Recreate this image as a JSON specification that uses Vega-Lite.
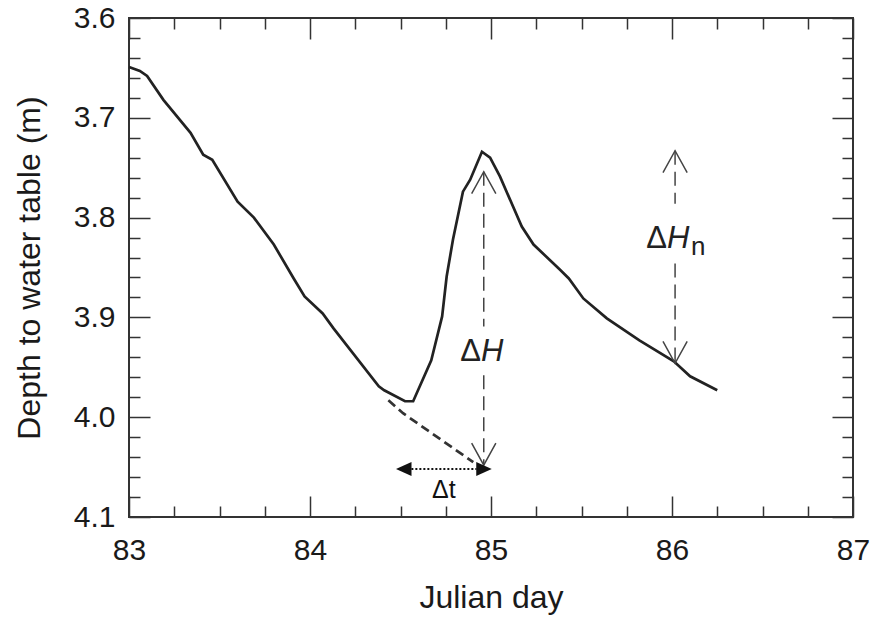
{
  "$schema": "https://vega.github.io/schema/vega-lite/v6.json",
  "width": 724,
  "height": 499,
  "autosize": {"type": "none"},
  "padding": {"left": 129, "top": 18, "right": 21, "bottom": 100},
  "config": {
    "font": "Liberation Sans",
    "view": {"stroke": "#333", "strokeWidth": 2},
    "axis": {"grid": false, "domain": false, "tickColor": "#333", "tickWidth": 1.5, "labelColor": "#1a1a1a", "titleColor": "#1a1a1a", "titleFontWeight": "normal"}
  },
  "datasets": {
    "main": [
      {"day": 83.00, "depth": 3.649}, {"day": 83.06, "depth": 3.653}, {"day": 83.10, "depth": 3.658},
      {"day": 83.19, "depth": 3.682}, {"day": 83.34, "depth": 3.715}, {"day": 83.41, "depth": 3.737},
      {"day": 83.46, "depth": 3.742}, {"day": 83.60, "depth": 3.784}, {"day": 83.69, "depth": 3.800},
      {"day": 83.80, "depth": 3.827}, {"day": 83.91, "depth": 3.861}, {"day": 83.97, "depth": 3.879},
      {"day": 84.07, "depth": 3.896}, {"day": 84.13, "depth": 3.911}, {"day": 84.38, "depth": 3.969},
      {"day": 84.41, "depth": 3.973}, {"day": 84.525, "depth": 3.984}, {"day": 84.57, "depth": 3.984},
      {"day": 84.67, "depth": 3.943}, {"day": 84.73, "depth": 3.899}, {"day": 84.755, "depth": 3.859},
      {"day": 84.79, "depth": 3.822}, {"day": 84.845, "depth": 3.774}, {"day": 84.885, "depth": 3.762},
      {"day": 84.95, "depth": 3.734}, {"day": 84.995, "depth": 3.740}, {"day": 85.05, "depth": 3.759},
      {"day": 85.17, "depth": 3.809}, {"day": 85.235, "depth": 3.827}, {"day": 85.38, "depth": 3.852},
      {"day": 85.43, "depth": 3.861}, {"day": 85.51, "depth": 3.881}, {"day": 85.64, "depth": 3.901},
      {"day": 85.82, "depth": 3.923}, {"day": 86.01, "depth": 3.944}, {"day": 86.10, "depth": 3.959},
      {"day": 86.25, "depth": 3.973}
    ],
    "extrap": [
      {"day": 84.433, "depth": 3.983}, {"day": 84.514, "depth": 3.996}, {"day": 84.902, "depth": 4.045}
    ],
    "segs": [
      {"day": 84.96, "depth": 3.754, "depth2": 3.909},
      {"day": 84.96, "depth": 3.958, "depth2": 4.048},
      {"day": 86.017, "depth": 3.733, "depth2": 3.786},
      {"day": 86.017, "depth": 3.846, "depth2": 3.946}
    ],
    "tipsUp": [{"day": 84.96, "depth": 3.754}, {"day": 86.017, "depth": 3.733}],
    "tipsDown": [{"day": 84.96, "depth": 4.048}, {"day": 86.017, "depth": 3.946}],
    "dt": [{"day": 84.56, "day2": 84.92, "depth": 4.052}],
    "triLeft": [{"day": 84.475, "depth": 4.052}],
    "triRight": [{"day": 85.004, "depth": 4.052}],
    "delta": [{"day": 84.945, "depth": 3.944, "t": "Δ"}, {"day": 85.972, "depth": 3.8306, "t": "Δ"}],
    "hItal": [{"day": 84.945, "depth": 3.944, "t": "H"}, {"day": 85.972, "depth": 3.8306, "t": "H"}],
    "sub": [{"day": 86.105, "depth": 3.8375, "t": "n"}],
    "dtLabel": [{"day": 84.74, "depth": 4.081, "t": "Δt"}]
  },
  "resolve": {"axis": {"x": "independent", "y": "independent"}},
  "layer": [
    {
      "data": {"name": "main"},
      "mark": {"type": "line", "color": "#222", "strokeWidth": 2.7},
      "encoding": {
        "x": {"field": "day", "type": "quantitative", "scale": {"domain": [83, 87], "nice": false, "zero": false},
              "axis": {"orient": "bottom", "values": [83, 84, 85, 86, 87], "format": "d", "ticks": false, "labelFontSize": 30, "labelPadding": 18, "labelFlush": false, "title": "Julian day", "titleFontSize": 32, "titlePadding": 17}},
        "y": {"field": "depth", "type": "quantitative", "scale": {"domain": [3.6, 4.1], "reverse": true, "nice": false, "zero": false},
              "axis": {"orient": "left", "values": [3.6, 3.7, 3.8, 3.9, 4.0, 4.1], "format": ".1f", "ticks": false, "labelFontSize": 30, "labelPadding": 14, "labelFlush": false, "title": "Depth to water table (m)", "titleFontSize": 32, "titlePadding": 27}}
      }
    },
    {
      "data": {"name": "extrap"},
      "mark": {"type": "line", "color": "#333", "strokeWidth": 2.7, "strokeDash": [9, 5]},
      "encoding": {
        "x": {"field": "day", "type": "quantitative", "axis": {"orient": "bottom", "values": [83, 84, 85, 86, 87], "tickSize": -21, "labels": false, "title": null}},
        "y": {"field": "depth", "type": "quantitative", "axis": {"orient": "left", "values": [3.6, 3.7, 3.8, 3.9, 4.0, 4.1], "tickSize": -21, "labels": false, "title": null}}
      }
    },
    {
      "data": {"name": "segs"},
      "mark": {"type": "rule", "color": "#444", "strokeWidth": 1.5, "strokeDash": [14, 7]},
      "encoding": {
        "x": {"field": "day", "type": "quantitative", "axis": {"orient": "bottom", "values": [83.25, 83.5, 83.75, 84.25, 84.5, 84.75, 85.25, 85.5, 85.75, 86.25, 86.5, 86.75], "tickSize": -11, "labels": false, "title": null}},
        "y": {"field": "depth", "type": "quantitative", "axis": {"orient": "left", "values": [3.62, 3.64, 3.66, 3.68, 3.72, 3.74, 3.76, 3.78, 3.82, 3.84, 3.86, 3.88, 3.92, 3.94, 3.96, 3.98, 4.02, 4.04, 4.06, 4.08], "tickSize": -11, "labels": false, "title": null}},
        "y2": {"field": "depth2"}
      }
    },
    {
      "data": {"name": "tipsUp"},
      "mark": {"type": "point", "shape": "M-0.55,1L0,0L0.55,1", "filled": false, "stroke": "#444", "strokeWidth": 1.5, "size": 1936, "opacity": 1},
      "encoding": {
        "x": {"field": "day", "type": "quantitative", "axis": {"orient": "top", "values": [83, 84, 85, 86, 87], "tickSize": -21, "labels": false, "title": null}},
        "y": {"field": "depth", "type": "quantitative", "axis": {"orient": "right", "values": [3.6, 3.7, 3.8, 3.9, 4.0, 4.1], "tickSize": -21, "labels": false, "title": null}}
      }
    },
    {
      "data": {"name": "tipsDown"},
      "mark": {"type": "point", "shape": "M-0.55,-1L0,0L0.55,-1", "filled": false, "stroke": "#444", "strokeWidth": 1.5, "size": 1936, "opacity": 1},
      "encoding": {
        "x": {"field": "day", "type": "quantitative", "axis": {"orient": "top", "values": [83.25, 83.5, 83.75, 84.25, 84.5, 84.75, 85.25, 85.5, 85.75, 86.25, 86.5, 86.75], "tickSize": -11, "labels": false, "title": null}},
        "y": {"field": "depth", "type": "quantitative", "axis": {"orient": "right", "values": [3.62, 3.64, 3.66, 3.68, 3.72, 3.74, 3.76, 3.78, 3.82, 3.84, 3.86, 3.88, 3.92, 3.94, 3.96, 3.98, 4.02, 4.04, 4.06, 4.08], "tickSize": -11, "labels": false, "title": null}}
      }
    },
    {
      "data": {"name": "dt"},
      "mark": {"type": "rule", "color": "#111", "strokeWidth": 2, "strokeDash": [2, 2]},
      "encoding": {
        "x": {"field": "day", "type": "quantitative", "axis": null},
        "x2": {"field": "day2"},
        "y": {"field": "depth", "type": "quantitative", "axis": null}
      }
    },
    {
      "data": {"name": "triLeft"},
      "mark": {"type": "point", "shape": "M0,0L1,-0.45L1,0.45Z", "filled": true, "color": "#111", "size": 961, "opacity": 1},
      "encoding": {
        "x": {"field": "day", "type": "quantitative", "axis": null},
        "y": {"field": "depth", "type": "quantitative", "axis": null}
      }
    },
    {
      "data": {"name": "triRight"},
      "mark": {"type": "point", "shape": "M0,0L-1,-0.45L-1,0.45Z", "filled": true, "color": "#111", "size": 961, "opacity": 1},
      "encoding": {
        "x": {"field": "day", "type": "quantitative", "axis": null},
        "y": {"field": "depth", "type": "quantitative", "axis": null}
      }
    },
    {
      "data": {"name": "delta"},
      "mark": {"type": "text", "align": "right", "baseline": "alphabetic", "fontSize": 31, "color": "#222"},
      "encoding": {
        "x": {"field": "day", "type": "quantitative", "axis": null},
        "y": {"field": "depth", "type": "quantitative", "axis": null},
        "text": {"field": "t"}
      }
    },
    {
      "data": {"name": "hItal"},
      "mark": {"type": "text", "align": "left", "baseline": "alphabetic", "fontSize": 31, "fontStyle": "italic", "color": "#222"},
      "encoding": {
        "x": {"field": "day", "type": "quantitative", "axis": null},
        "y": {"field": "depth", "type": "quantitative", "axis": null},
        "text": {"field": "t"}
      }
    },
    {
      "data": {"name": "sub"},
      "mark": {"type": "text", "align": "left", "baseline": "alphabetic", "fontSize": 26, "color": "#222"},
      "encoding": {
        "x": {"field": "day", "type": "quantitative", "axis": null},
        "y": {"field": "depth", "type": "quantitative", "axis": null},
        "text": {"field": "t"}
      }
    },
    {
      "data": {"name": "dtLabel"},
      "mark": {"type": "text", "align": "center", "baseline": "alphabetic", "fontSize": 25, "color": "#111"},
      "encoding": {
        "x": {"field": "day", "type": "quantitative", "axis": null},
        "y": {"field": "depth", "type": "quantitative", "axis": null},
        "text": {"field": "t"}
      }
    }
  ]
}
